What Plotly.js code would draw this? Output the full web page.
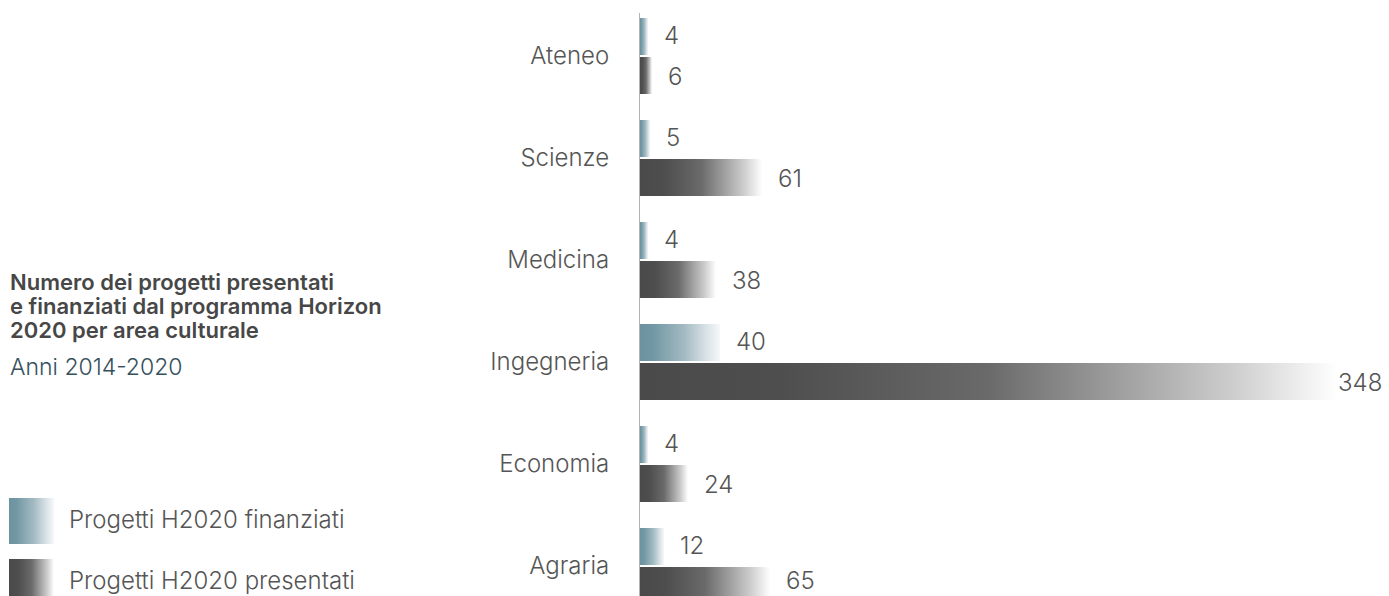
<!DOCTYPE html>
<html><head><meta charset="utf-8">
<script src="https://cdn.plot.ly/plotly-3.0.1.min.js"></script>
<style>html,body{margin:0;padding:0;background:#fff;} #chart{width:1389px;height:596px;}</style>
</head><body><div id="chart"></div>
<script>
// ---- data ----
const categories = ["Ateneo", "Scienze", "Medicina", "Ingegneria", "Economia", "Agraria"];
const finanziati = [4, 5, 4, 40, 4, 12];
const presentati = [6, 61, 38, 348, 24, 65];
const seriesNames = ["Progetti H2020 finanziati", "Progetti H2020 presentati"];
const titleLines = ["Numero dei progetti presentati", "e finanziati dal programma Horizon", "2020 per area culturale"];
const subtitle = "Anni 2014-2020";

// ---- style ----
const W = 1389, H = 596;
const M = {l: 640, r: 0, t: 13, b: 0};
const PW = W - M.l - M.r, PH = H - M.t - M.b;
const FONT = "Inter, Roboto, 'Open Sans', sans-serif";
const TXT = "#555555";
const xMax = 374;
const yRange = [5.294, -0.4216];
const gradStops = {
  teal: [[0, "#6b929e"], [0.15, "#7097a3"], [0.55, "#a3bac2"], [0.85, "#dde5e9"], [1, "#f7f8fa"]],
  dark: [[0, "#4a4a4a"], [0.2, "#4e4e4e"], [0.5, "#6a6a6a"], [0.66, "#979797"], [0.85, "#cdcdcd"], [1, "#ffffff"]]
};

const px2x = px => (px - M.l) / PW;
const py2y = py => (H - M.b - py) / PH;
const pxPerUnit = PW / xMax;
const pxPerCat = PH / (yRange[0] - yRange[1]);
const catCenterPx = i => M.t + (i - yRange[1]) * pxPerCat;

const traces = [
  {type: "bar", orientation: "h", name: seriesNames[0], y: categories, x: finanziati,
   marker: {color: "#6b929e"}, hoverinfo: "x+y"},
  {type: "bar", orientation: "h", name: seriesNames[1], y: categories, x: presentati,
   marker: {color: "#4a4a4a"}, hoverinfo: "x+y"}
];

const annotations = [];
[finanziati, presentati].forEach((vals, si) => {
  vals.forEach((v, i) => {
    const endPx = M.l + v * pxPerUnit;
    const txt = String(v);
    const estW = txt.length * 15;
    let ysh = si === 0 ? 20.5 : -20.5;
    const centerPx = catCenterPx(i) - ysh;
    if (centerPx > H - 15) ysh += centerPx - (H - 15);
    const font = {family: FONT, size: 24, color: TXT, weight: 300};
    if (endPx + 15 + estW > W - 4) {
      annotations.push({xref: "paper", yref: "y", x: 1, y: categories[i], text: txt, showarrow: false,
        xanchor: "right", yanchor: "middle", xshift: -5, yshift: ysh, font});
    } else {
      annotations.push({xref: "x", yref: "y", x: v, y: categories[i], text: txt, showarrow: false,
        xanchor: "left", yanchor: "middle", xshift: 14, yshift: ysh, font});
    }
  });
});

// title
const titleBase = [282, 306, 330];
titleLines.forEach((t, k) => {
  annotations.push({xref: "paper", yref: "paper", x: px2x(8), y: py2y(titleBase[k]), text: t, showarrow: false,
    xanchor: "left", yanchor: "middle", font: {family: FONT, size: 22, color: "#474747", weight: 600}});
});
annotations.push({xref: "paper", yref: "paper", x: px2x(8), y: py2y(367), text: subtitle, showarrow: false,
  xanchor: "left", yanchor: "middle", font: {family: FONT, size: 23, color: "#35505c", weight: 300}});

// legend
const shapes = [];
const legendY = [498, 559];
seriesNames.forEach((n, k) => {
  shapes.push({type: "rect", xref: "paper", yref: "paper", layer: "above",
    x0: px2x(9), x1: px2x(54), y0: py2y(legendY[k]), y1: py2y(legendY[k] + 46),
    line: {width: 0}, fillcolor: k === 0 ? "#6b929e" : "#4a4a4a"});
  annotations.push({xref: "paper", yref: "paper", x: px2x(67), y: py2y(legendY[k] + 21), text: n, showarrow: false,
    xanchor: "left", yanchor: "middle", font: {family: FONT, size: 24, color: TXT, weight: 300}});
});

const layout = {
  width: W, height: H, margin: M,
  paper_bgcolor: "#fff", plot_bgcolor: "#fff",
  showlegend: false, barmode: "group", bargap: 0.2353, bargroupgap: 0.05,
  xaxis: {range: [0, xMax], visible: false, fixedrange: true},
  yaxis: {type: "category", range: yRange, showline: true, linecolor: "#b3b3b3", linewidth: 1,
    ticks: "", ticklabelstandoff: 25, showgrid: false, zeroline: false, fixedrange: true,
    tickfont: {family: FONT, size: 24, color: TXT, weight: 300}},
  annotations: annotations, shapes: shapes
};

function addGradients(gd) {
  const svg = gd.querySelector("svg.main-svg");
  let defs = svg.querySelector("defs");
  if (!defs) { defs = document.createElementNS("http://www.w3.org/2000/svg", "defs"); svg.insertBefore(defs, svg.firstChild); }
  Object.keys(gradStops).forEach(key => {
    const id = "grad-" + key;
    if (defs.querySelector("#" + id)) return;
    const lg = document.createElementNS("http://www.w3.org/2000/svg", "linearGradient");
    lg.setAttribute("id", id);
    lg.setAttribute("x1", "0"); lg.setAttribute("x2", "1"); lg.setAttribute("y1", "0"); lg.setAttribute("y2", "0");
    gradStops[key].forEach(([o, c]) => {
      const s = document.createElementNS("http://www.w3.org/2000/svg", "stop");
      s.setAttribute("offset", o); s.setAttribute("stop-color", c);
      lg.appendChild(s);
    });
    defs.appendChild(lg);
  });
  const keys = ["teal", "dark"];
  gd.querySelectorAll(".barlayer .trace").forEach((tr, i) => {
    tr.querySelectorAll("path").forEach(p => { p.style.fill = "url(#grad-" + keys[i] + ")"; });
  });
  gd.querySelectorAll(".shapelayer path[data-index]").forEach(p => {
    const idx = +p.getAttribute("data-index");
    p.style.fill = "url(#grad-" + keys[idx] + ")";
    p.style.fillOpacity = 1;
  });
}

const gd = document.getElementById("chart");
Plotly.newPlot(gd, traces, layout, {displayModeBar: false, staticPlot: true}).then(() => {
  addGradients(gd);
  gd.on && gd.on("plotly_afterplot", () => addGradients(gd));
});
</script>
</body></html>
